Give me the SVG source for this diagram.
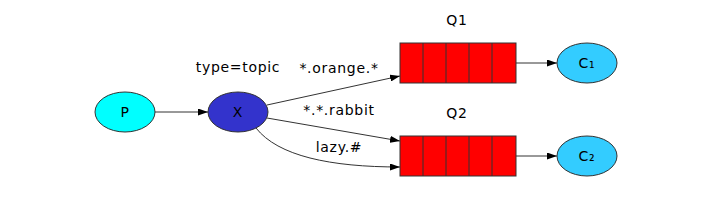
<svg xmlns="http://www.w3.org/2000/svg" width="707" height="212" viewBox="0 0 707 212">
<defs>
<style>
text{font-family:"DejaVu Sans","Liberation Sans",sans-serif;font-size:14px;fill:#000;text-anchor:middle;letter-spacing:0.7px}
.edge{fill:none;stroke:#333;stroke-width:1}
.node{stroke:#333;stroke-width:1}
.q{fill:#ff0000;stroke:#333;stroke-width:1}
</style>
<marker id="arr" viewBox="0 0 10 7" refX="10" refY="3.5" markerWidth="10" markerHeight="7" markerUnits="userSpaceOnUse" orient="auto">
<path d="M0,0 L10,3.5 L0,7 z" fill="#000"/>
</marker>
</defs>
<rect width="707" height="212" fill="#fff"/>
<g id="connectors">
<path class="edge" d="M155,112 L208,112" marker-end="url(#arr)"/>
<path class="edge" d="M267,105 L400,76" marker-end="url(#arr)"/>
<path class="edge" d="M267,118 L400,141" marker-end="url(#arr)"/>
<path class="edge" d="M256,128 C278,156 330,167 400,167" marker-end="url(#arr)"/>
<path class="edge" d="M516,63 L557,63" marker-end="url(#arr)"/>
<path class="edge" d="M516,156 L557,156" marker-end="url(#arr)"/>
<text x="339" y="73">*.orange.*</text>
<text x="339" y="115">*.*.rabbit</text>
<text x="339" y="152">lazy.#</text>
</g>
<g id="P">
<ellipse class="node" cx="125" cy="112" rx="30" ry="20" fill="#00ffff"/>
<text x="125" y="117">P</text>
</g>
<g id="X">
<ellipse class="node" cx="238" cy="112" rx="30" ry="20" fill="#3333cc"/>
<text x="238" y="117">X</text>
<text x="238" y="72">type=topic</text>
</g>
<g id="Q1">
<rect class="q" x="400" y="43" width="116" height="40"/>
<path class="q" d="M423,43V83M446,43V83M469,43V83M492,43V83"/>
<text x="457" y="25">Q1</text>
</g>
<g id="Q2">
<rect class="q" x="400" y="136" width="116" height="40"/>
<path class="q" d="M423,136V176M446,136V176M469,136V176M492,136V176"/>
<text x="457" y="118">Q2</text>
</g>
<g id="C1">
<ellipse class="node" cx="587" cy="63" rx="30" ry="20" fill="#33ccff"/>
<text x="587" y="68">C₁</text>
</g>
<g id="C2">
<ellipse class="node" cx="587" cy="156" rx="30" ry="20" fill="#33ccff"/>
<text x="587" y="161">C₂</text>
</g>
</svg>
